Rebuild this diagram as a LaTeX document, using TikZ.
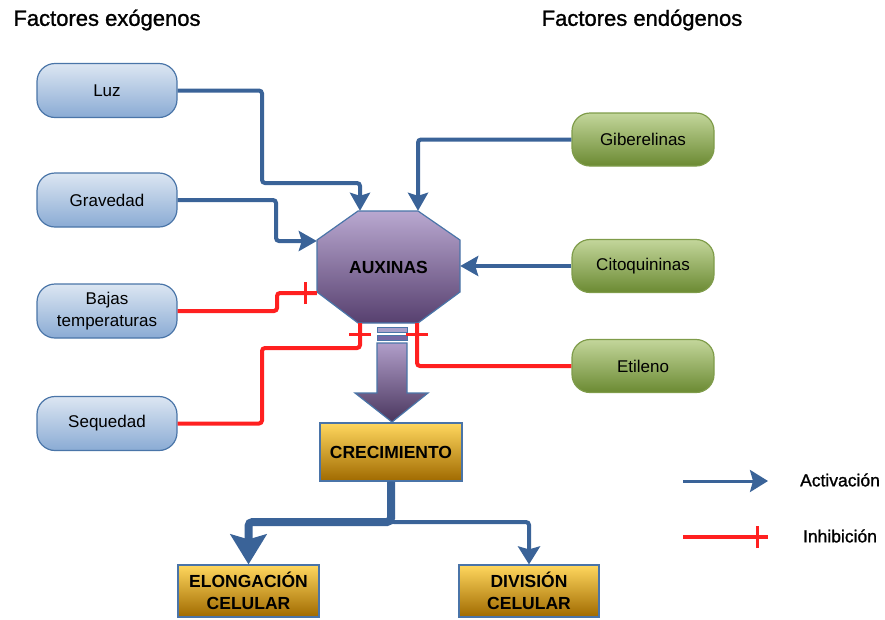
\documentclass[tikz,border=0pt]{standalone}
\usepackage{fontspec}
\setmainfont{Liberation Sans}
\newfontfamily\heavyfont[FakeBold=1.2]{Liberation Sans}
\usetikzlibrary{arrows.meta,decorations.markings,calc}
\definecolor{btop}{HTML}{DCE6F2}
\definecolor{bbot}{HTML}{8AABD4}
\definecolor{bbord}{HTML}{4A75A8}
\definecolor{gtop}{HTML}{C3D69B}
\definecolor{gbot}{HTML}{6B8A32}
\definecolor{gbord}{HTML}{7F9C4A}
\definecolor{otop}{HTML}{FFD75E}
\definecolor{omid}{HTML}{E9A600}
\definecolor{obot}{HTML}{A06A00}
\definecolor{obord}{HTML}{4A74A8}
\definecolor{ptop}{HTML}{B9A8D0}
\definecolor{pmid}{HTML}{8064A2}
\definecolor{pbot}{HTML}{57406F}
\definecolor{ablue}{HTML}{3A6398}
\definecolor{ired}{HTML}{FF2020}
\begin{document}
\begin{tikzpicture}[x=1pt,y=-1pt,
  exo/.style={rounded corners=18pt, draw=bbord, line width=1.2pt, top color=btop, bottom color=bbot,
    minimum width=140pt, minimum height=54pt, inner sep=0pt, align=center,
    font=\fontsize{17}{21.5}\selectfont},
  endo/.style={rounded corners=18pt, draw=gbord, line width=1.2pt, top color=gtop, bottom color=gbot,
    minimum width=142pt, minimum height=53pt, inner sep=0pt, align=center,
    font=\fontsize{17}{21.5}\selectfont},
  res/.style={rectangle, draw=obord, line width=1.2pt, top color=otop, middle color=omid, bottom color=obot,
    inner sep=0pt, align=center, font=\bfseries\fontsize{17.5}{22}\selectfont},
  act/.style={draw=ablue, line width=4pt, rounded corners=3pt,
    -{Stealth[width=20pt,length=18pt,inset=3pt]}},
  inh/.style={draw=ired, line width=4pt, rounded corners=3pt,
    postaction={decorate, decoration={markings,
      mark=at position -11pt with {\draw[ired, line width=3pt, rounded corners=0pt] (0pt,-11pt) -- (0pt,11pt);}}}},
  title/.style={font=\heavyfont\fontsize{22}{26}\selectfont, inner sep=0pt},
  legtxt/.style={font=\heavyfont\fontsize{17.5}{21}\selectfont, inner sep=0pt}
]
\useasboundingbox (0,0) rectangle (885,619);

% titles
\node[title] (t1) at (107,20) {Factores exógenos};
\node[title] (t2) at (642,20) {Factores endógenos};

% octagon AUXINAS
\path[draw=bbord, line width=1.2pt, top color=ptop, middle color=pmid, bottom color=pbot]
  (358,211) -- (418,211) -- (460,240) -- (460,292) -- (418,323) -- (358,323) -- (317,292) -- (317,240) -- cycle;
\node[minimum width=143pt, minimum height=112pt, inner sep=0pt, font=\bfseries\fontsize{17.5}{21}\selectfont] (aux) at (388.5,267) {AUXINAS};

% big purple arrow with stripes
\path[draw=bbord, line width=1pt, fill=ptop!85!bbord] (377,327) rectangle (407,332);
\path[draw=bbord, line width=1pt, fill=pmid!80!bbord] (377,335) rectangle (407,340);
\path[draw=bbord, line width=1.2pt, top color=ptop!85!pmid, middle color=pmid, bottom color=pbot!85!black]
  (377,343) -- (407,343) -- (407,393) -- (428,393) -- (392,422) -- (355,393) -- (377,393) -- cycle;

% exogenous factors
\node[exo] (luz) at (107,90.5) {Luz};
\node[exo] (grav) at (107,200) {Gravedad};
\node[exo] (bajas) at (107,311) {Bajas\\temperaturas};
\node[exo] (seq) at (107,423.5) {Sequedad};

% endogenous factors
\node[endo] (gib) at (643,139.5) {Giberelinas};
\node[endo] (cito) at (643,266) {Citoquininas};
\node[endo] (etil) at (643,366) {Etileno};

% results
\node[res, minimum width=142pt, minimum height=58pt] (crec) at (391,452) {CRECIMIENTO};
\node[res, minimum width=141pt, minimum height=52pt] (elong) at (248.5,591) {ELONGACIÓN\\CELULAR};
\node[res, minimum width=140pt, minimum height=52pt] (div) at (529,591) {DIVISIÓN\\CELULAR};

% activations
\draw[act] (luz.east) -| (262,183) -| ([xshift=-28.5pt]aux.north);
\draw[act] (grav.east) -| (276,241) -- ([yshift=26pt]aux.west);
\draw[act] (gib.west) -| ([xshift=29.5pt]aux.north);
\draw[act] (cito.west) -- (cito.west -| aux.east);

% inhibitions
\draw[inh] (bajas.east) -| (277,293) -- ([yshift=-26pt]aux.west);
\draw[inh] (seq.east) -| (262,348) -| ([xshift=-28.5pt]aux.south);
\draw[inh] (etil.west) -| ([xshift=28.5pt]aux.south);

% growth branches
\draw[ablue, line width=8pt, rounded corners=4pt, -{Stealth[width=36pt,length=30pt,inset=5pt]}]
  (crec.south) |- (elong.north |- 0,522) -- (elong.north);
\draw[ablue, line width=4pt, rounded corners=3pt, -{Stealth[width=22pt,length=18pt,inset=3pt]}]
  (crec.south) |- (div.north |- 0,522) -- (div.north);

% legend
\coordinate (la1) at (683,481);
\coordinate (la2) at (768,481);
\coordinate (li1) at (683,537);
\coordinate (li2) at (768,537);
\draw[ablue, line width=3pt, -{Stealth[width=22pt,length=18pt,inset=3pt]}] (la1) -- (la2);
\draw[inh] (li1) -- (li2);
\node[legtxt] (lact) at (840,480) {Activación};
\node[legtxt] (linh) at (840,536) {Inhibición};
\end{tikzpicture}
\end{document}
